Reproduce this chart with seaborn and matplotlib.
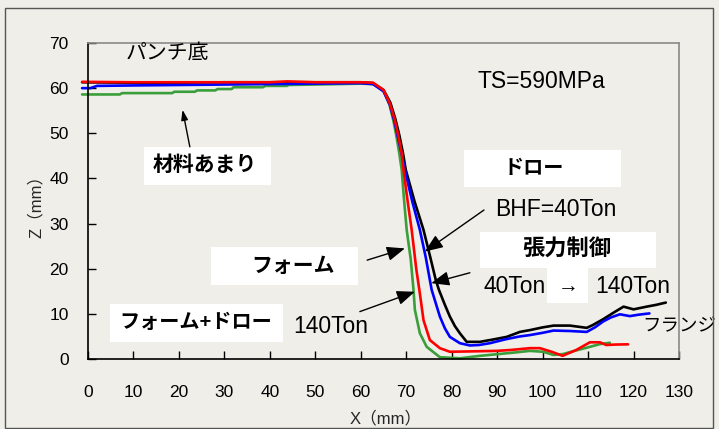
import numpy as np
import pandas as pd
import matplotlib
matplotlib.use("Agg")
import matplotlib.pyplot as plt
from matplotlib.patches import Rectangle
import seaborn as sns

# ---- data ----
black_x = [-1.3, 10, 20, 30, 40, 50, 60, 62.7, 65, 66.5, 67.6, 68.5, 69.3, 69.9, 71.8, 73.8, 75.3, 76.5, 77.2, 78.5, 79.6, 80.7, 81.8, 83.3, 86.2, 89, 92.1, 95, 97.2, 100, 102.4, 106, 109.7, 111, 113.3, 115.5, 117.8, 120, 122.9, 125, 127.1]
black_z = [61.3, 61.2, 61.2, 61.3, 61.3, 61.3, 61.3, 61.1, 59.6, 56.8, 53.2, 49.5, 45.5, 41.9, 35.0, 28.6, 22.5, 17.5, 15.3, 12.0, 9.4, 7.3, 5.7, 3.8, 3.8, 4.3, 4.9, 6.0, 6.4, 7.0, 7.4, 7.4, 6.9, 7.5, 8.8, 10.2, 11.6, 11.0, 11.6, 12.0, 12.5]

blue_x = [-1.3, 0.5, 2, 10, 20, 30, 40, 50, 60, 62.7, 65, 66.4, 67.4, 68.2, 69.0, 69.7, 71.3, 73.0, 74.3, 75.2, 75.6, 77.4, 78.5, 79.6, 81.8, 84.0, 86, 88.4, 92, 95, 97.2, 100, 102.4, 106, 109.7, 111.5, 113.3, 115, 117, 119.2, 121, 123.5]
blue_z = [60.0, 60.0, 60.5, 60.6, 60.7, 60.8, 60.9, 61.0, 61.1, 60.9, 59.3, 56.3, 52.7, 49.0, 45.4, 41.9, 35.0, 28.6, 22.5, 17.5, 15.3, 9.4, 6.8, 4.9, 3.5, 3.0, 3.1, 3.5, 4.4, 5.0, 5.3, 5.8, 6.3, 6.2, 6.0, 7.0, 8.3, 9.2, 9.9, 9.5, 9.8, 10.1]

red_x = [-1.3, 10, 20, 30, 40, 43.8, 50, 60, 62.7, 65, 66.4, 67.5, 68.3, 69.0, 69.4, 70.3, 71.2, 72.2, 73.0, 73.8, 75.2, 77.4, 79.6, 85, 89.9, 93, 97.2, 99.4, 102, 104.4, 107.4, 110.4, 112.6, 114.0, 116, 118.8]
red_z = [61.4, 61.3, 61.3, 61.3, 61.3, 61.5, 61.3, 61.3, 61.2, 59.6, 56.6, 52.9, 49.2, 45.6, 41.9, 35.0, 28.6, 20.0, 14.5, 8.6, 4.2, 2.4, 1.6, 1.7, 1.8, 2.0, 2.4, 2.4, 1.6, 0.7, 2.0, 3.7, 3.7, 3.1, 3.2, 3.25]

green_x = [-1.3, 7, 7.5, 18.5, 19, 23.5, 24, 28, 28.5, 31.6, 32, 38.5, 39, 43.8, 44, 50, 60, 62.7, 65, 66.3, 67.2, 67.9, 68.5, 69.0, 69.5, 70.1, 71.0, 71.6, 71.9, 73.0, 74.5, 77.4, 81.8, 86.2, 93.5, 97.2, 100.1, 102.4, 104.5, 107, 109.7, 112.6, 114.8]
green_z = [58.6, 58.6, 58.9, 58.9, 59.2, 59.2, 59.5, 59.5, 59.8, 59.8, 60.2, 60.2, 60.5, 60.5, 60.7, 60.8, 61.0, 60.9, 59.4, 56.4, 52.7, 49.0, 45.4, 41.9, 35.5, 28.6, 22.0, 15.3, 10.9, 5.7, 2.7, 0.4, 0.15, 0.7, 1.4, 1.8, 1.6, 0.9, 1.1, 1.8, 2.5, 3.3, 3.6]

series_colors = {"black": "#000000", "blue": "#0000ff", "red": "#ff0000", "green": "#3a9e3a"}

xticks = list(range(0, 131, 10))
yticks = list(range(0, 71, 10))

frames = []
for name, xs, zs in [("black", black_x, black_z), ("blue", blue_x, blue_z),
                     ("red", red_x, red_z), ("green", green_x, green_z)]:
    frames.append(pd.DataFrame({"X": xs, "Z": zs, "s": name}))
df = pd.concat(frames, ignore_index=True)

# ---- style ----
sns.set_theme(style="ticks")
plt.rcParams["font.family"] = ["Liberation Sans", "Noto Sans CJK JP"]
BG = "#efeee8"

fig = plt.figure(figsize=(7.19, 4.29), dpi=100, facecolor=BG)
ax = fig.add_axes([88/719, 70/429, 591/719, 316/429], facecolor=BG)

sns.lineplot(data=df, x="X", y="Z", hue="s", units="s", estimator=None, sort=False,
             palette=series_colors, hue_order=["black", "green", "blue", "red"],
             linewidth=1.9, legend=False, ax=ax)
for ln in ax.get_lines():
    ln.set_clip_on(False)
    ln.set_solid_joinstyle("round")

ax.set_xlim(0, 130)
ax.set_ylim(0, 70)
ax.set_xticks(xticks)
ax.set_yticks(yticks)
ax.tick_params(axis="both", direction="in", length=6, width=1, labelsize=12.5, colors="black")
ax.tick_params(axis="y", pad=14)
ax.tick_params(axis="x", pad=19)
for side in ["left", "bottom"]:
    ax.spines[side].set_color("black")
    ax.spines[side].set_linewidth(1.2)
for side in ["top", "right"]:
    ax.spines[side].set_color("#8a8a8a")
    ax.spines[side].set_linewidth(1.2)
    ax.spines[side].set_visible(True)

ax.set_xlabel("X（mm）", fontsize=12, va="center")
ax.set_ylabel("Z（mm）", fontsize=12, va="center")
ax.xaxis.set_label_coords(298/591, -59/316)
ax.yaxis.set_label_coords(-52/591, (359-202)/316)

# ---- white boxes ----
def box(x0, x1, y0, y1):
    ax.add_patch(Rectangle((x0, y0), x1 - x0, y1 - y0, facecolor="white",
                           edgecolor="none", zorder=3, clip_on=False))

box(12.3, 40.2, 38.5, 47.0)      # 材料あまり
box(82.7, 117.2, 38.0, 46.3)     # ドロー
box(86.2, 124.9, 20.1, 28.2)     # 張力制御
box(100.9, 109.9, 12.5, 20.1)    # →
box(27.1, 59.4, 16.5, 24.7)      # フォーム
box(4.8, 43.0, 3.8, 12.2)        # フォーム+ドロー

# ---- texts ----
def txt(x, y, s, size, bold=False, ha="center"):
    ax.text(x, y, s, fontsize=size, fontweight="bold" if bold else "normal",
            ha=ha, va="center", zorder=4, color="black", clip_on=False)

txt(17.5, 67.8, "パンチ底", 15)
txt(99.8, 61.4, "TS=590MPa", 16.5)
txt(25.8, 43.0, "材料あまり", 15, bold=True)
txt(98.1, 42.3, "ドロー", 14.5, bold=True)
txt(102.9, 33.2, "BHF=40Ton", 16.5)
txt(105.3, 24.1, "張力制御", 16, bold=True)
txt(93.8, 16.0, "40Ton", 16.5)
txt(105.6, 16.0, "→", 15)
txt(119.8, 16.0, "140Ton", 16.5)
txt(45.0, 20.6, "フォーム", 15, bold=True)
txt(23.7, 8.1, "フォーム+ドロー", 14.5, bold=True)
txt(53.5, 7.3, "140Ton", 16.5)
txt(122.0, 7.2, "フランジ", 13.3, ha="left")

# ---- arrows ----
big = dict(arrowstyle="-|>,head_length=0.55,head_width=0.22", color="black",
           lw=1.0, shrinkA=0, shrinkB=0, mutation_scale=20)
small = dict(arrowstyle="-|>,head_length=0.3,head_width=0.1", color="black",
             lw=1.0, shrinkA=0, shrinkB=0, mutation_scale=20)

def arrow(tail, tip, props):
    ax.annotate("", xy=tip, xytext=tail, arrowprops=props, zorder=5,
                annotation_clip=False)

arrow((22.4, 47.0), (20.8, 55.2), small)       # 材料あまり
arrow((87.1, 33.0), (74.1, 23.8), big)         # BHF
arrow((84.0, 19.1), (75.5, 16.8), big)         # 張力制御
arrow((61.4, 21.9), (69.7, 24.5), big)         # フォーム
arrow((59.8, 10.5), (71.9, 14.9), big)         # フォーム+ドロー

# ---- outer frame ----
fig.patches.append(Rectangle((5/719, 1/429), (713-5)/719, 420/429,
                             transform=fig.transFigure, facecolor="none",
                             edgecolor="#555555", lw=1.0))

fig.savefig("out.png", dpi=100, facecolor=BG)
